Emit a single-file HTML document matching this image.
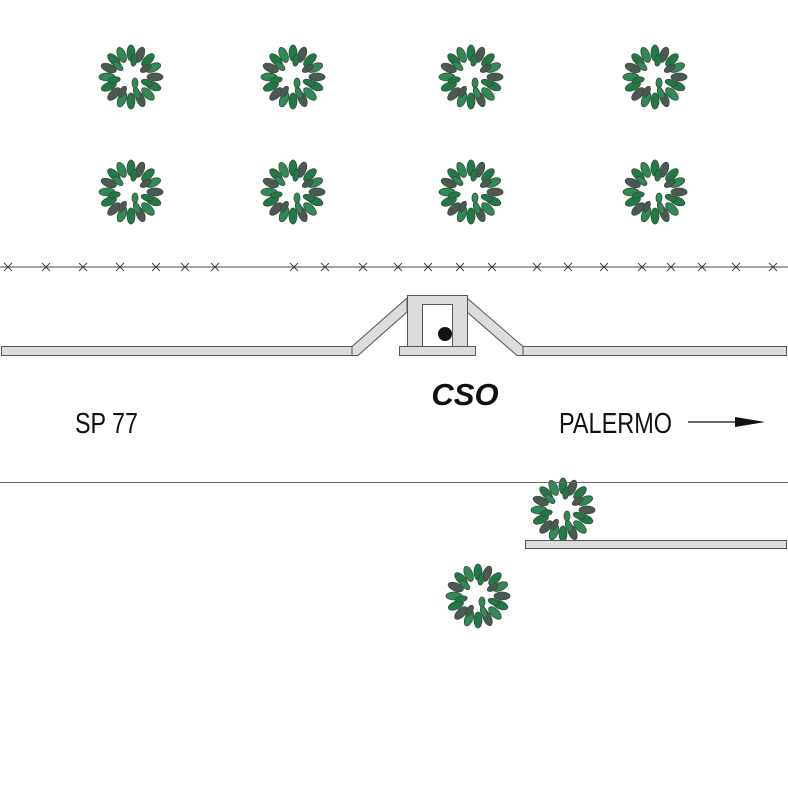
<!DOCTYPE html>
<html><head><meta charset="utf-8"><style>html,body{margin:0;padding:0;background:#fff}svg{display:block}</style></head>
<body>
<svg width="788" height="787" viewBox="0 0 788 787" xmlns="http://www.w3.org/2000/svg">
<defs>
<g id="tree">
  <g stroke="#3a4a40" stroke-width="0.8">
    <ellipse cx="0" cy="-24" rx="4" ry="8" fill="#1f7a45" transform="rotate(0)"/>
    <ellipse cx="0" cy="-24" rx="4" ry="8" fill="#4a5a52" transform="rotate(22)"/>
    <ellipse cx="0" cy="-24" rx="4" ry="8" fill="#1f7a45" transform="rotate(45)"/>
    <ellipse cx="0" cy="-24" rx="4" ry="8" fill="#2f8a55" transform="rotate(67)"/>
    <ellipse cx="0" cy="-24" rx="4" ry="8" fill="#4a5a52" transform="rotate(90)"/>
    <ellipse cx="0" cy="-24" rx="4" ry="8" fill="#1f7a45" transform="rotate(112)"/>
    <ellipse cx="0" cy="-24" rx="4" ry="8" fill="#2f8a55" transform="rotate(135)"/>
    <ellipse cx="0" cy="-24" rx="4" ry="8" fill="#4a5a52" transform="rotate(157)"/>
    <ellipse cx="0" cy="-24" rx="4" ry="8" fill="#1f7a45" transform="rotate(180)"/>
    <ellipse cx="0" cy="-24" rx="4" ry="8" fill="#2f8a55" transform="rotate(202)"/>
    <ellipse cx="0" cy="-24" rx="4" ry="8" fill="#4a5a52" transform="rotate(225)"/>
    <ellipse cx="0" cy="-24" rx="4" ry="8" fill="#1f7a45" transform="rotate(247)"/>
    <ellipse cx="0" cy="-24" rx="4" ry="8" fill="#2f8a55" transform="rotate(270)"/>
    <ellipse cx="0" cy="-24" rx="4" ry="8" fill="#4a5a52" transform="rotate(292)"/>
    <ellipse cx="0" cy="-24" rx="4" ry="8" fill="#1f7a45" transform="rotate(315)"/>
    <ellipse cx="0" cy="-24" rx="4" ry="8" fill="#2f8a55" transform="rotate(337)"/>
    <ellipse cx="0" cy="-17" rx="3" ry="6" fill="#1f7a45" transform="rotate(10)"/>
    <ellipse cx="0" cy="-17" rx="3" ry="6" fill="#4a5a52" transform="rotate(60)"/>
    <ellipse cx="0" cy="-17" rx="3" ry="6" fill="#1f7a45" transform="rotate(110)"/>
    <ellipse cx="0" cy="-17" rx="3" ry="6" fill="#2f8a55" transform="rotate(160)"/>
    <ellipse cx="0" cy="-17" rx="3" ry="6" fill="#4a5a52" transform="rotate(210)"/>
    <ellipse cx="0" cy="-17" rx="3" ry="6" fill="#1f7a45" transform="rotate(260)"/>
    <ellipse cx="0" cy="-17" rx="3" ry="6" fill="#2f8a55" transform="rotate(310)"/>
    <ellipse cx="4" cy="6" rx="3" ry="5" fill="#2f8a55"/>
  </g>
</g>
</defs>

<use href="#tree" x="131" y="77"/>
<use href="#tree" x="293" y="77"/>
<use href="#tree" x="471" y="77"/>
<use href="#tree" x="655" y="77"/>
<use href="#tree" x="131" y="192"/>
<use href="#tree" x="293" y="192"/>
<use href="#tree" x="471" y="192"/>
<use href="#tree" x="655" y="192"/>
<use href="#tree" x="563" y="510"/>
<use href="#tree" x="478" y="596"/>

<line x1="0" y1="267" x2="788" y2="267" stroke="#444" stroke-width="1"/>
<g stroke="#444" stroke-width="1">
  <path d="M4 263l8 8M4 271l8-8M42 263l8 8M42 271l8-8M79 263l8 8M79 271l8-8M116 263l8 8M116 271l8-8M152 263l8 8M152 271l8-8M181 263l8 8M181 271l8-8M211 263l8 8M211 271l8-8M290 263l8 8M290 271l8-8M321 263l8 8M321 271l8-8M359 263l8 8M359 271l8-8M394 263l8 8M394 271l8-8M424 263l8 8M424 271l8-8M456 263l8 8M456 271l8-8M488 263l8 8M488 271l8-8M533 263l8 8M533 271l8-8M564 263l8 8M564 271l8-8M600 263l8 8M600 271l8-8M638 263l8 8M638 271l8-8M667 263l8 8M667 271l8-8M698 263l8 8M698 271l8-8M732 263l8 8M732 271l8-8M769 263l8 8M769 271l8-8"/>
</g>

<g fill="#dcdcdc" stroke="#555" stroke-width="1">
  <rect x="1.5" y="346.5" width="351" height="9"/>
  <rect x="522.5" y="346.5" width="264" height="9"/>
  <polygon points="352,346.5 407,298 407,312 358,355.5 352,355.5"/>
  <polygon points="467,298 523,346.5 523,355.5 517,355.5 467,312"/>
  <path d="M407.5 346.5V295.5H467.5V346.5H452.5V304.5H422.5V346.5Z"/>
  <rect x="399.5" y="346.5" width="76" height="9"/>
</g>
<circle cx="445" cy="334" r="7" fill="#111"/>

<text x="465" y="405" font-family="Liberation Sans, sans-serif" font-size="31" font-weight="bold" font-style="italic" text-anchor="middle" fill="#111">CSO</text>
<text x="75" y="433" font-family="Liberation Sans, sans-serif" font-size="29" fill="#111" textLength="63" lengthAdjust="spacingAndGlyphs">SP 77</text>
<text x="559" y="433" font-family="Liberation Sans, sans-serif" font-size="29" fill="#111" textLength="113" lengthAdjust="spacingAndGlyphs">PALERMO</text>
<line x1="688" y1="422" x2="740" y2="422" stroke="#111" stroke-width="1.3"/>
<polygon points="735,417 765,422 735,427" fill="#111"/>

<line x1="0" y1="482.5" x2="788" y2="482.5" stroke="#666" stroke-width="1"/>
<rect x="525.5" y="540.5" width="261" height="8" fill="#dcdcdc" stroke="#555" stroke-width="1"/>
</svg>
</body></html>
